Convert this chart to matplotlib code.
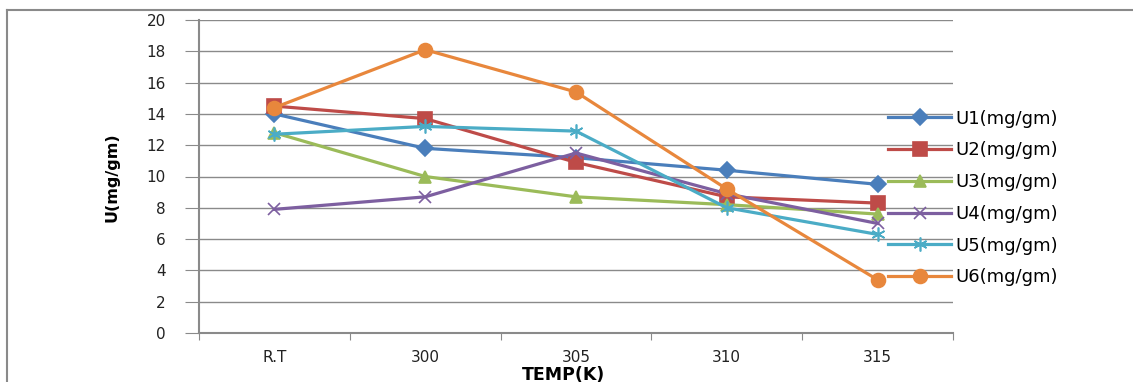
import matplotlib
matplotlib.use("Agg")
import matplotlib.pyplot as plt
from matplotlib.lines import Line2D

categories = ["R.T", "300", "305", "310", "315"]
u1 = [14.0, 11.8, 11.2, 10.4, 9.5]
u2 = [14.5, 13.7, 10.9, 8.7, 8.3]
u3 = [12.8, 10.0, 8.7, 8.2, 7.6]
u4 = [7.9, 8.7, 11.5, 8.9, 7.0]
u5 = [12.7, 13.2, 12.9, 8.0, 6.3]
u6 = [14.4, 18.1, 15.4, 9.2, 3.4]
labels = ["U1(mg/gm)", "U2(mg/gm)", "U3(mg/gm)", "U4(mg/gm)", "U5(mg/gm)", "U6(mg/gm)"]

colors = ["#4A7EBB", "#BE4B48", "#9BBB59", "#7D5FA0", "#4BACC6", "#E8873C"]
markers = ["D", "s", "^", "x", (6, 2, 0), "o"]
msizes = [8, 10, 9, 9, 10, 10]

fig = plt.figure(figsize=(11.33, 3.82), dpi=100)
ax = fig.add_axes([199 / 1133, 1 - 333 / 382, (953 - 199) / 1133, (333 - 20) / 382])

x = list(range(len(categories)))
series = [u1, u2, u3, u4, u5, u6]
for vals, lab, c, m, ms in zip(series, labels, colors, markers, msizes):
    ax.plot(x, vals, color=c, lw=2.3, marker=m, markersize=ms,
            markerfacecolor=c, markeredgecolor=c, markeredgewidth=1.2, label=lab)

ax.set_xlim(-0.5, len(categories) - 0.5)
ax.set_ylim(0, 20)
ax.set_yticks(range(0, 21, 2))
ax.yaxis.grid(True, color="#8a8a8a", lw=1.0)
ax.set_axisbelow(True)

# category labels between boundary ticks
ax.set_xticks([i - 0.5 for i in range(len(categories) + 1)])
ax.set_xticklabels([])
ax.set_xticks(x, minor=True)
ax.set_xticklabels(categories, minor=True)
ax.tick_params(axis="x", which="minor", length=0, pad=12, labelsize=11, colors="#222222")
ax.tick_params(axis="x", which="major", length=5, color="#8a8a8a")
ax.tick_params(axis="y", length=10, color="#8a8a8a", pad=14, labelsize=11, labelcolor="#222222")

for s in ["top", "right"]:
    ax.spines[s].set_visible(False)
for s in ["left", "bottom"]:
    ax.spines[s].set_color("#8a8a8a")
    ax.spines[s].set_linewidth(1.5)

fig.text(112 / 1133, 1 - 177 / 382, "U(mg/gm)", rotation=90, ha="center", va="center",
         fontsize=11.5, fontweight="bold")
fig.text(563 / 1133, 1 - 375 / 382, "TEMP(K)", ha="center", va="center",
         fontsize=12.5, fontweight="bold")

fig.legend(loc="center left", bbox_to_anchor=(888 / 1133, 1 - 198 / 382), frameon=False,
           fontsize=13, handlelength=3.5, handletextpad=0.25, labelspacing=0.76,
           borderaxespad=0, borderpad=0)

# outer chart border (left and top edges visible)
fig.add_artist(Line2D([7 / 1133, 7 / 1133], [0, 1 - 10 / 382], color="#8a8a8a", lw=1.5,
                      transform=fig.transFigure))
fig.add_artist(Line2D([7 / 1133, 1], [1 - 10 / 382, 1 - 10 / 382], color="#8a8a8a", lw=1.5,
                      transform=fig.transFigure))

fig.savefig("out.png", dpi=100)
